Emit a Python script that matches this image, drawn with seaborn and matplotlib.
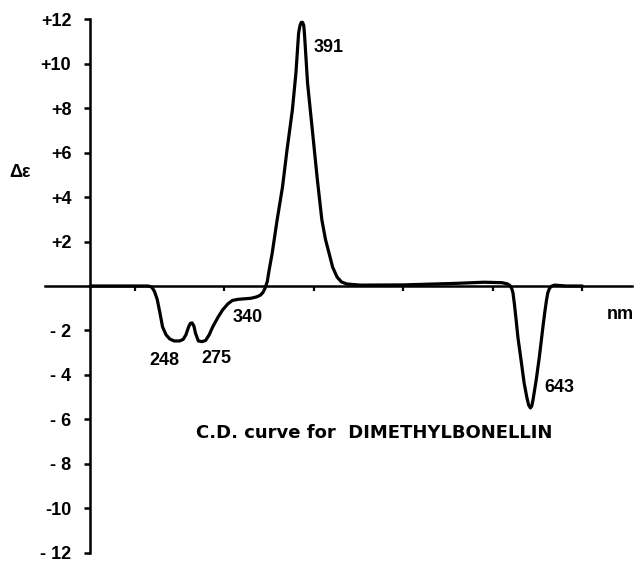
import numpy as np
import pandas as pd
import matplotlib
matplotlib.use('Agg')
import matplotlib.pyplot as plt
import seaborn as sns

# CD curve for dimethylbonellin
wavelength = [150, 180, 215, 219, 222, 225, 228, 231, 235, 239, 244, 250, 254, 257, 260,
              262, 264, 266, 268, 271, 275, 279, 283, 287, 293, 298, 304, 309, 315,
              321, 330, 336, 340, 343, 345.5, 348, 350, 353.5, 359, 365, 370, 376,
              380, 383, 384.5, 386, 387.5, 388.8, 389.6, 390.7, 393, 398, 404, 409,
              413, 417, 421, 426, 431, 437, 452, 500, 560, 590, 610, 616, 619, 621,
              622.5, 624, 626, 628, 632, 635, 638, 640, 642, 643.5, 645, 648.5, 652,
              656, 658, 660, 661.5, 663.5, 666, 669, 682, 700]
delta_eps = [0.0, 0.0, 0.0, -0.05, -0.25, -0.6, -1.2, -1.84, -2.2, -2.38, -2.47, -2.47, -2.4, -2.2, -1.85,
             -1.68, -1.66, -1.8, -2.15, -2.47, -2.5, -2.45, -2.2, -1.84, -1.4, -1.08, -0.8, -0.65, -0.6,
             -0.58, -0.55, -0.49, -0.42, -0.3, -0.1, 0.2, 0.7, 1.48, 2.97, 4.45, 6.1, 7.9,
             9.57, 11.37, 11.7, 11.85, 11.85, 11.7, 11.3, 10.6, 9.12, 7.15, 4.76, 2.97,
             2.1, 1.48, 0.85, 0.4, 0.18, 0.09, 0.04, 0.05, 0.12, 0.17, 0.15, 0.1, 0.03, -0.1,
             -0.3, -0.77, -1.5, -2.29, -3.46, -4.36, -5.0, -5.35, -5.48, -5.4, -5.1, -4.22, -3.19,
             -1.84, -1.2, -0.63, -0.3, -0.09, 0.0, 0.04, 0.0, 0.0]

y_ticks = [12, 10, 8, 6, 4, 2, -2, -4, -6, -8, -10, -12]
y_tick_labels = ['+12', '+10', '+8', '+6', '+4', '+2', '- 2', '- 4', '- 6', '- 8', '-10', '- 12']
x_ticks = [200, 300, 400, 500, 600, 700]

peak_labels = [('391', 400, 10.7, 'left'), ('248', 233, -3.35, 'center'),
               ('275', 291, -3.25, 'center'), ('340', 326, -1.4, 'center'),
               ('643', 658, -4.55, 'left')]

sns.set_style('white')
plt.rcParams['font.family'] = ['Liberation Sans', 'DejaVu Sans']
plt.rcParams['text.color'] = 'black'

df = pd.DataFrame({'nm': wavelength, 'de': delta_eps})

fig = plt.figure(figsize=(6.34, 5.63), dpi=100)
ax = fig.add_axes([0.0715, 0.002, 0.9246, 0.980])

sns.lineplot(data=df, x='nm', y='de', color='black', linewidth=2.3,
             estimator=None, sort=True, ax=ax, solid_joinstyle='round',
             solid_capstyle='round')

ax.set_xlim(100, 755)
ax.set_ylim(-12.4, 12.4)

# axes crossing: horizontal line at zero, vertical line at 150 nm
ax.spines['top'].set_visible(False)
ax.spines['right'].set_visible(False)
ax.spines['bottom'].set_position(('data', 0))
ax.spines['left'].set_position(('data', 150))
ax.spines['left'].set_bounds(-12, 12)
for s in ['left', 'bottom']:
    ax.spines[s].set_linewidth(1.8)
    ax.spines[s].set_color('black')

ax.set_xticks(x_ticks)
ax.set_xticklabels([''] * len(x_ticks))
ax.tick_params(axis='x', bottom=True, direction='out', length=3.5, width=1.6, colors='black')

ax.set_yticks(y_ticks)
ax.set_yticklabels(y_tick_labels, fontsize=13, fontweight='bold', color='black')
ax.tick_params(axis='y', left=True, direction='out', length=4.5, width=1.8, colors='black', pad=9)

ax.set_xlabel('')
ax.set_ylabel('Δε', rotation=0, fontsize=13, fontweight='bold', color='black', va='center')
ax.yaxis.set_label_coords(-0.043, 0.706)

for txt, xx, yy, ha in peak_labels:
    ax.text(xx, yy, txt, ha=ha, va='center', fontsize=13, fontweight='bold')

ax.text(727, -1.3, 'nm', ha='left', va='center', fontsize=13, fontweight='bold', clip_on=False)
ax.text(268, -6.6, 'C.D. curve for  DIMETHYLBONELLIN', ha='left', va='center',
        fontsize=13, fontweight='bold', family=['DejaVu Sans'])

fig.savefig('out.png', dpi=100)
